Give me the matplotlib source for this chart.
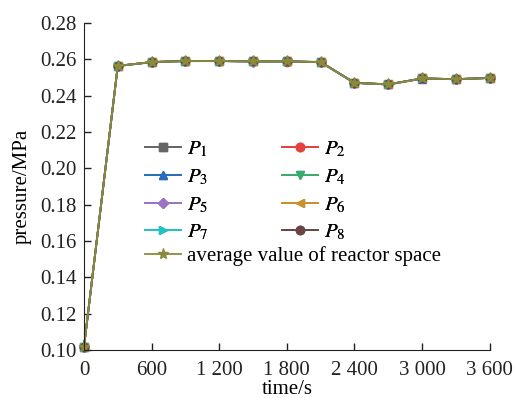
import matplotlib
matplotlib.use("Agg")
import matplotlib.pyplot as plt
from matplotlib.ticker import FixedLocator

plt.rcParams['font.family'] = ['Liberation Serif', 'DejaVu Serif']
plt.rcParams['mathtext.fontset'] = 'stix'
plt.rcParams['font.size'] = 15

# tiempo (s) y presiones (MPa)
time_s = [0, 300, 600, 900, 1200, 1500, 1800, 2100, 2400, 2700, 3000, 3300, 3600]
p1 = [0.1015, 0.2564, 0.2585, 0.2591, 0.2591, 0.2589, 0.2589, 0.2585, 0.2471, 0.2462, 0.2495, 0.2491, 0.2498]
p2 = [0.1015, 0.2564, 0.2586, 0.2591, 0.2591, 0.2589, 0.2588, 0.2585, 0.2471, 0.2462, 0.2495, 0.2491, 0.2498]
p3 = [0.1015, 0.2563, 0.2585, 0.2590, 0.2591, 0.2589, 0.2589, 0.2584, 0.2470, 0.2462, 0.2494, 0.2491, 0.2497]
p4 = [0.1015, 0.2564, 0.2585, 0.2591, 0.2590, 0.2589, 0.2589, 0.2585, 0.2471, 0.2461, 0.2495, 0.2490, 0.2498]
p5 = [0.1015, 0.2564, 0.2585, 0.2591, 0.2591, 0.2588, 0.2589, 0.2585, 0.2471, 0.2462, 0.2495, 0.2491, 0.2498]
p6 = [0.1015, 0.2565, 0.2585, 0.2591, 0.2591, 0.2589, 0.2589, 0.2585, 0.2472, 0.2462, 0.2495, 0.2491, 0.2499]
p7 = [0.1015, 0.2564, 0.2584, 0.2591, 0.2591, 0.2589, 0.2589, 0.2585, 0.2471, 0.2462, 0.2496, 0.2491, 0.2498]
p8 = [0.1015, 0.2564, 0.2585, 0.2592, 0.2591, 0.2589, 0.2589, 0.2586, 0.2471, 0.2463, 0.2495, 0.2491, 0.2498]
avg = [0.1015, 0.2564, 0.2585, 0.2591, 0.2591, 0.2589, 0.2589, 0.2585, 0.2471, 0.2462, 0.2495, 0.2491, 0.2498]

series = [p1, p2, p3, p4, p5, p6, p7, p8]
labels = ['$P_1$', '$P_2$', '$P_3$', '$P_4$', '$P_5$', '$P_6$', '$P_7$', '$P_8$']
colors = ['#666666', '#e8413c', '#2a6ebb', '#3aab6e', '#9a74c4', '#c8912b', '#22c3c3', '#6b4444']
markers = ['s', 'o', '^', 'v', 'D', '<', '>', 'o']

x_ticks = [0, 600, 1200, 1800, 2400, 3000, 3600]
x_ticklabels = ['0', '600', '1 200', '1 800', '2 400', '3 000', '3 600']
y_ticks = [0.10, 0.12, 0.14, 0.16, 0.18, 0.20, 0.22, 0.24, 0.26, 0.28]

fig = plt.figure(figsize=(5.15, 3.98), dpi=100)
ax = fig.add_axes([0.163, 0.121, 0.788, 0.821])

handles = []
for s, lab, c, m in zip(series, labels, colors, markers):
    ms = 5 if m == 'D' else 6
    h, = ax.plot(time_s, s, color=c, marker=m, markersize=ms, linewidth=1.3, label=lab, clip_on=False)
    handles.append(h)
h_avg, = ax.plot(time_s, avg, color='#8a8a3c', marker='*', markersize=8, linewidth=1.3,
                 label='average value of reactor space', clip_on=False)

ax.set_xlim(0, 3600)
ax.set_ylim(0.10, 0.28)
ax.xaxis.set_major_locator(FixedLocator(x_ticks))
ax.set_xticklabels(x_ticklabels)
ax.yaxis.set_major_locator(FixedLocator(y_ticks))
ax.set_yticklabels(['%.2f' % v for v in y_ticks])
ax.tick_params(direction='in', length=5, width=1, colors='#222222')
ax.tick_params(axis='x', pad=8)
ax.tick_params(axis='y', pad=5.5)
ax.spines['top'].set_visible(False)
ax.spines['right'].set_visible(False)
ax.spines['left'].set_color('#222222')
ax.spines['bottom'].set_color('#222222')
ax.set_xlabel('time/s', labelpad=0)
ax.set_ylabel('pressure/MPa', labelpad=6)

# leyenda: P1..P8 en dos columnas y el promedio aparte
order = [0, 2, 4, 6, 1, 3, 5, 7]
leg1 = fig.legend([handles[i] for i in order], [labels[i] for i in order], ncol=2,
                  loc='upper left', bbox_to_anchor=(145 / 515, 1 - 140 / 398), frameon=False,
                  borderpad=0, borderaxespad=0, handlelength=1.75, handletextpad=0.25,
                  columnspacing=3.55, labelspacing=0.38)
fig.add_artist(leg1)
fig.legend([h_avg], ['average value of reactor space'], loc='upper left',
           bbox_to_anchor=(145 / 515, 1 - 246 / 398), frameon=False, borderpad=0,
           borderaxespad=0, handlelength=1.75, handletextpad=0.25)

fig.savefig('out.png', dpi=100)
